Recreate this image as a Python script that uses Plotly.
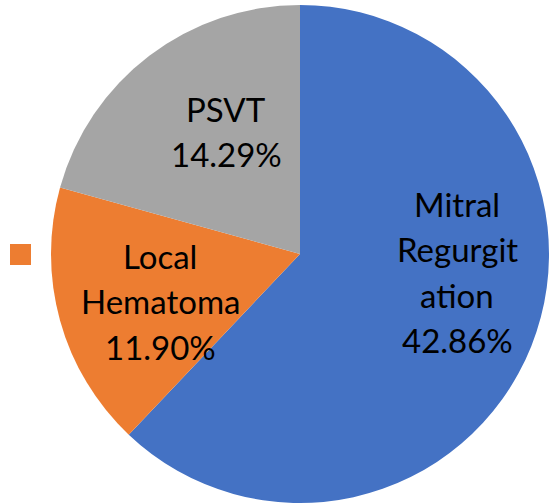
import math
import plotly.graph_objects as go

labels = ["Mitral Regurgitation", "Local Hematoma", "PSVT"]
values = [42.86, 11.90, 14.29]
text_lines = [["Mitral", "Regurgit", "ation", "42.86%"], ["Local", "Hematoma", "11.90%"], ["PSVT", "14.29%"]]
colors = ["#4472C4", "#ED7D31", "#A5A5A5"]

W, H = 549, 504
# pie geometry (pixels)
CX, CY, R = 300, 254, 249

# label placement: radial fraction and angular nudge (deg) from slice middle
label_radius = [0.635, 0.593, 0.575]
label_nudge = [-15.2, -3.1, 6.2]
LINE_GAP = 45.5
FONT = dict(family="Lato, Carlito, Calibri, sans-serif", size=33, color="black")

fig = go.Figure(go.Pie(
    labels=labels,
    values=values,
    textinfo="none",
    sort=False,
    direction="clockwise",
    rotation=0,
    marker=dict(colors=colors, line=dict(width=0)),
    domain=dict(x=[(CX - R) / W, (CX + R) / W], y=[(H - CY - R) / H, (H - CY + R) / H]),
    showlegend=False,
    hoverinfo="label+percent",
))

total = sum(values)
annotations = []
start = 0.0
for i, v in enumerate(values):
    frac = v / total
    mid = (start + frac / 2) * 360 + label_nudge[i]
    start += frac
    th = math.radians(mid)
    px = CX + label_radius[i] * R * math.sin(th)
    py = CY - label_radius[i] * R * math.cos(th)
    n = len(text_lines[i])
    for k, line in enumerate(text_lines[i]):
        ly = py + (k - (n - 1) / 2) * LINE_GAP
        annotations.append(dict(
            x=px / W, y=1 - ly / H, xref="paper", yref="paper",
            text=line, showarrow=False, align="center",
            xanchor="center", yanchor="middle", font=FONT,
        ))

fig.update_layout(
    width=W, height=H,
    margin=dict(l=0, r=0, t=0, b=0),
    paper_bgcolor="white",
    plot_bgcolor="white",
    annotations=annotations,
    shapes=[dict(type="rect", xref="paper", yref="paper",
                 x0=10 / W, x1=31 / W, y0=(H - 265) / H, y1=(H - 244) / H,
                 fillcolor="#ED7D31", line=dict(width=0))],
)

fig.write_html("out.html", config={"displayModeBar": False},
               post_script="document.body.style.margin='0';")
